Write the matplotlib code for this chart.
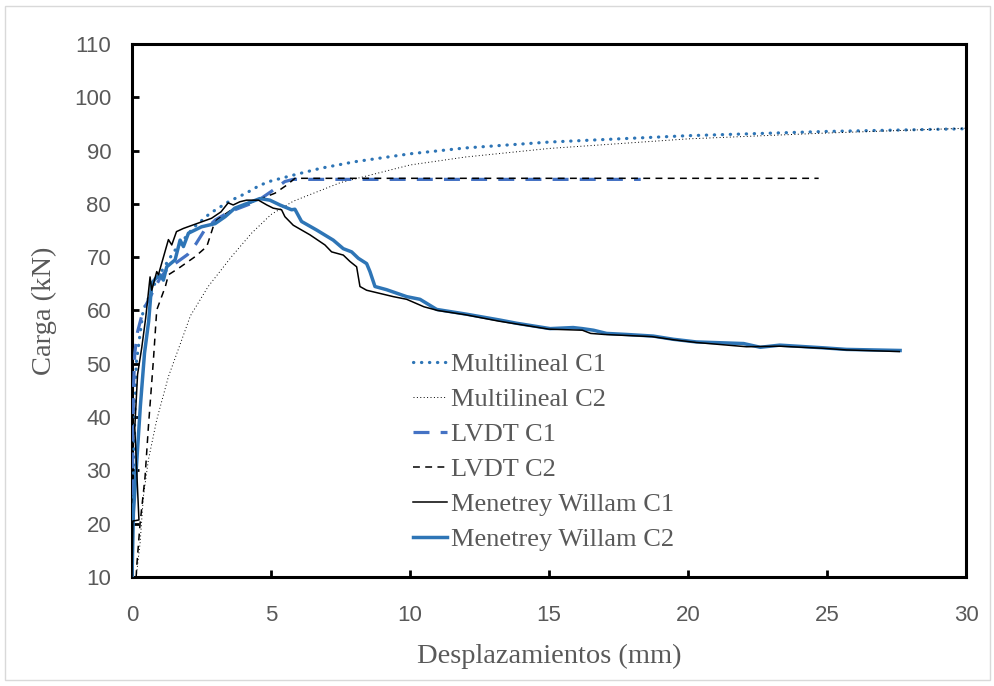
import matplotlib
matplotlib.use("Agg")
import matplotlib.pyplot as plt
from matplotlib.patches import Rectangle

# ---------------- data ----------------
mult_c1_x = [0, 0.05, 0.15, 0.4, 0.9, 1.5, 2.2, 2.8, 3.5, 4.1, 4.6, 5.0, 5.8, 6.8, 8, 10, 12, 15, 20, 25, 30]
mult_c1_y = [10, 30, 50, 60, 66, 71, 75.5, 78.2, 80.5, 82, 83.5, 84.3, 85.4, 86.7, 87.9, 89.4, 90.5, 91.6, 92.8, 93.6, 94.1]

mult_c2_x = [0.15, 0.29, 0.41, 0.59, 0.89, 1.31, 1.79, 2.1, 2.74, 3.58, 4.3, 5.0, 5.8, 7.5, 10, 12, 15, 20, 25, 30]
mult_c2_y = [10, 16.3, 25.1, 32, 39.5, 47.6, 54.5, 59, 64.5, 70.1, 74.5, 78, 80.5, 84, 87.3, 88.8, 90.4, 92.2, 93.3, 94.2]

lvdt_c1_x = [0, 0.02, 0.05, 0.1, 0.2, 0.4, 0.7, 1.0, 1.3, 1.6, 2.0, 2.3, 2.6, 3.0, 3.5, 4.0, 4.5, 5.0, 5.5, 5.8, 18.3]
lvdt_c1_y = [10, 30, 45, 52, 56, 60, 63, 66, 68, 69, 70.5, 72.5, 75, 77, 78.5, 79.5, 80.5, 82.3, 84.2, 84.6, 84.6]

lvdt_c2_x = [0.15, 0.17, 0.29, 0.47, 0.59, 0.77, 0.89, 1.2, 1.31, 1.67, 2.27, 2.69, 2.92, 3.05, 3.58, 4.06, 5.14, 5.56, 5.86, 24.7]
lvdt_c2_y = [10, 12, 20, 28.8, 38.2, 50.7, 60.1, 64.5, 66.7, 67.9, 70.1, 72, 75.7, 77, 78.9, 79.8, 82, 83.5, 84.8, 84.8]

mw_c1_x = [0, 0.03, 0.25, 0.1, 0.2, 0.35, 0.49, 0.65, 0.71, 0.89, 0.95, 1.13, 1.31, 1.43, 1.6, 1.85, 2.33, 2.86, 3.2,
           3.46, 3.64, 3.88, 4.12, 4.55, 4.85, 5.08, 5.38, 5.5, 5.8, 6.4, 6.94, 7.18, 7.6, 7.84, 8.08, 8.2, 8.44,
           9.4, 9.88, 10.5, 11, 12, 13.2, 15, 16.2, 16.5, 17, 18.7, 19.5, 20.3, 22.1, 23.3, 24.9, 25.7, 27.6]
mw_c1_y = [10, 20.5, 20.7, 38, 48, 53, 58.5, 66.3, 63.8, 67.3, 66.7, 70, 73.3, 72.3, 74.8, 75.4, 76.3, 77.3, 78.5,
           80.2, 79.8, 80.4, 80.7, 80.7, 79.8, 79.2, 78.9, 77.6, 76.0, 74.2, 72.3, 71.0, 70.4, 69.2, 68.2, 64.5, 63.8,
           62.6, 62.1, 60.7, 60, 59.2, 58, 56.5, 56.3, 55.7, 55.5, 55.1, 54.5, 54, 53.2, 53.3, 52.9, 52.6, 52.3]

mw_c2_x = [0, 0.05, 0.15, 0.3, 0.45, 0.6, 0.71, 0.85, 1.0, 1.13, 1.25, 1.55, 1.73, 1.85, 2.03, 2.5, 2.99, 3.35, 3.7,
           4.3, 4.6, 4.96, 5.32, 5.74, 5.86, 6.1, 6.64, 7.24, 7.6, 7.9, 8.14, 8.44, 8.56, 8.74, 9.16, 9.88, 10.36,
           10.96, 12.04, 13.24, 13.84, 15.04, 15.87, 16.2, 16.6, 17.07, 17.8, 18.75, 19.47, 20.3, 22, 22.6, 23.3,
           24.86, 25.7, 27.63]
mw_c2_y = [10, 22, 30, 42, 52, 58, 65.1, 66, 66.7, 65.7, 68.2, 69.5, 73.2, 72, 74.5, 75.7, 76.3, 77.6, 79.2,
           80.4, 81, 80.7, 79.8, 78.9, 79, 76.7, 75.1, 73.2, 71.6, 71.0, 69.8, 68.8, 67.3, 64.5, 63.9, 62.6, 62.1,
           60.2, 59.3, 58.2, 57.6, 56.6, 56.8, 56.6, 56.3, 55.7, 55.5, 55.2, 54.6, 54.1, 53.8, 53.1, 53.5,
           53.0, 52.7, 52.5]

x_ticks = [0, 5, 10, 15, 20, 25, 30]
y_ticks = [10, 20, 30, 40, 50, 60, 70, 80, 90, 100, 110]

labels = ["Multilineal C1", "Multilineal C2", "LVDT C1", "LVDT C2",
          "Menetrey Willam C1", "Menetrey Willam C2"]

# ---------------- plot ----------------
BLUE = "#2E75B6"
BLUE2 = "#4472C4"
GRAY = "#595959"
serif = ["Liberation Serif", "DejaVu Serif"]
narrow = ["Liberation Sans Narrow", "Liberation Sans", "DejaVu Sans"]

fig = plt.figure(figsize=(9.95, 6.86), dpi=100)
ax = fig.add_axes([132/995, 1-577/686, (966-132)/995, (577-44)/686])

ax.plot(mult_c1_x, mult_c1_y, color=BLUE, lw=2.3, linestyle=(0, (0.1, 2.4)),
        dash_capstyle="round", label=labels[0], zorder=3)
ax.plot(mult_c2_x, mult_c2_y, color="black", lw=0.7, linestyle=(0, (1, 2.5)),
        label=labels[1], zorder=3)
ax.plot(lvdt_c1_x, lvdt_c1_y, color=BLUE2, lw=2.3, linestyle=(0, (5, 3.5)),
        label=labels[2], zorder=3)
ax.plot(lvdt_c2_x, lvdt_c2_y, color="black", lw=1.1, linestyle=(0, (4.5, 3.5)),
        label=labels[3], zorder=3)
ax.plot(mw_c1_x, mw_c1_y, color="black", lw=1.1, label=labels[4], zorder=4)
ax.plot(mw_c2_x, mw_c2_y, color=BLUE, lw=2.5, label=labels[5], zorder=3.5)

ax.set_xlim(0, 30)
ax.set_ylim(10, 110)
ax.set_xticks(x_ticks)
ax.set_yticks(y_ticks)
ax.tick_params(direction="in", length=5, width=2, color="black", labelcolor=GRAY,
               labelsize=16)
ax.tick_params(axis="y", pad=15)
ax.tick_params(axis="x", pad=20)
for lab in ax.get_xticklabels() + ax.get_yticklabels():
    lab.set_fontfamily(narrow)
for sp in ax.spines.values():
    sp.set_linewidth(2.2)
    sp.set_color("black")

ax.set_xlabel("Desplazamientos (mm)", fontsize=20.5, color=GRAY, family=serif, labelpad=13)
ax.set_ylabel("Carga (kN)", fontsize=20.5, color=GRAY, family=serif, labelpad=12)

leg = ax.legend(loc="upper left", bbox_to_anchor=(0.337, 0.421), frameon=False,
                prop={"family": serif, "size": 19}, handlelength=1.3,
                handletextpad=0.15, labelspacing=0.44, borderpad=0, borderaxespad=0)
for t in leg.get_texts():
    t.set_color(GRAY)

fig.patches.append(Rectangle((5/995, 6/686), 985/995, 674/686, transform=fig.transFigure,
                             fill=False, edgecolor="#D9D9D9", lw=1))

fig.savefig("out.png", dpi=100)
